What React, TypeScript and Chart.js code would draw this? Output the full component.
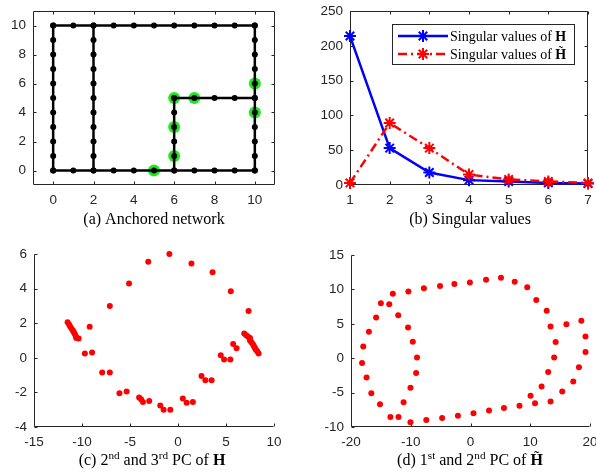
import React, { useEffect, useRef } from 'react';
import { Chart, registerables } from 'chart.js';

Chart.register(...registerables);

const W = 596;
const H = 472;
const SANS = '"Liberation Sans", Arial, Helvetica, sans-serif';
const SERIF = '"Liberation Serif", "Times New Roman", serif';
const AXC = '#262626';

// ---------- (a) Anchored network ----------
const netBottomX = [0, 1, 2, 3, 4, 5, 6, 7, 8, 9, 10];
const netBottomY = [0, 0, 0, 0, 0, 0, 0, 0, 0, 0, 0];
const netTopX = [0, 1, 2, 3, 4, 5, 6, 7, 8, 9, 10];
const netTopY = [10, 10, 10, 10, 10, 10, 10, 10, 10, 10, 10];
const netCol0X = [0, 0, 0, 0, 0, 0, 0, 0, 0, 0, 0];
const netCol0Y = [0, 1, 2, 3, 4, 5, 6, 7, 8, 9, 10];
const netCol2X = [2, 2, 2, 2, 2, 2, 2, 2, 2, 2, 2];
const netCol2Y = [0, 1, 2, 3, 4, 5, 6, 7, 8, 9, 10];
const netCol10X = [10, 10, 10, 10, 10, 10, 10, 10, 10, 10, 10];
const netCol10Y = [0, 1, 2, 3, 4, 5, 6, 7, 8, 9, 10];
const netCol6X = [6, 6, 6, 6, 6, 6];
const netCol6Y = [0, 1, 2, 3, 4, 5];
const netRow5X = [6, 7, 8, 9, 10];
const netRow5Y = [5, 5, 5, 5, 5];
const anchorX = [5, 6, 6, 6, 7, 10, 10];
const anchorY = [0, 1, 3, 5, 5, 4, 6];
const netTicks = [0, 2, 4, 6, 8, 10];

// ---------- (b) Singular values ----------
const svIndex = [1, 2, 3, 4, 5, 6, 7];
const svH = [214, 53, 18, 7, 5, 3, 2];
const svHt = [3, 89, 53, 15, 8, 5, 3];
const svXTicks = [1, 2, 3, 4, 5, 6, 7];
const svYTicks = [0, 50, 100, 150, 200, 250];

// ---------- (c) 2nd and 3rd PC of H ----------
const pcHx = [
  -0.9, 1.4, -3.1, 3.6, -5.1, 5.5, -7.1, 7.35, -9.2, -9.7, -8.95, -7.9, -7.1, -6.1, -5.35,
  -4.05, -3.85, -3.65, -3.0, -1.85, -1.5, -0.8, 0.5, 0.9, 1.55, 2.45, 2.85, 3.5, 4.45, 4.8,
  5.45, 5.75, 6.1,
  -11.5, -11.35, -11.25, -11.1, -10.95, -10.85, -10.75, -10.65, -10.6, -10.35,
  6.9, 7.1, 7.3, 7.5, 7.5, 7.65, 7.8, 7.9, 8.0, 8.1, 8.25, 8.4,
];
const pcHy = [
  6.0, 5.45, 5.55, 4.95, 4.3, 3.85, 3.0, 2.7, 1.8, 0.25, 0.3, -0.85, -0.85, -2.05, -1.95,
  -2.3, -2.4, -2.55, -2.5, -2.75, -3.0, -3.0, -2.35, -2.6, -2.55, -1.05, -1.3, -1.3, 0.15, -0.1,
  -0.1, 0.8, 0.55,
  2.05, 1.92, 1.82, 1.7, 1.58, 1.48, 1.38, 1.26, 1.14, 1.12,
  1.4, 1.3, 1.22, 1.15, 1.0, 0.9, 0.78, 0.68, 0.58, 0.48, 0.38, 0.25,
];
const pcHXTicks = [-15, -10, -5, 0, 5, 10];
const pcHYTicks = [-4, -2, 0, 2, 4, 6];

// ---------- (d) 1st and 2nd PC of H~ ----------
const pcHtX = [
  5.1, 2.6, 7.4, -0.1, -2.7, -5.1, -7.8, -10.4, -13.0, -15.0, -13.6, -12.1, -15.8, -10.45,
  -17.0, -9.65, -17.95, -8.95, -18.15, -9.1, -17.4, -10.05, -16.6, -11.2, -15.15, -13.4,
  -12.05, -10.05, -7.4, -4.75, -2.1, 0.5, 3.1, 5.6, 8.2, 10.8, 10.05, 13.4, 11.9, 15.35,
  13.0, 17.2, 14.0, 18.15, 14.25, 19.25, 13.4, 19.25, 12.75, 16.05, 18.55, 11.0, 9.5,
];
const pcHtY = [
  11.7, 11.4, 11.1, 11.0, 10.8, 10.5, 10.15, 9.7, 9.35, 8.0, 7.85, 6.25, 5.9, 4.45,
  3.85, 2.4, 1.7, 0.1, -0.7, -2.15, -2.8, -4.3, -5.1, -6.4, -6.7, -8.55,
  -8.55, -9.3, -9.0, -8.7, -8.35, -8.0, -7.6, -7.25, -6.9, -6.55, -5.45, -6.3, -4.1, -4.85,
  -2.0, -3.4, 0.1, -1.3, 2.35, 0.9, 4.6, 3.15, 6.9, 4.95, 5.45, 8.45, 10.3,
];
const pcHtXTicks = [-20, -10, 0, 10, 20];
const pcHtYTicks = [-10, -5, 0, 5, 10, 15];

// ---------- helpers ----------
type Piece = { t: string; bold?: boolean; sup?: boolean; tilde?: boolean };
type Box = { L: number; T: number; R: number; B: number };

function drawRich(
  ctx: CanvasRenderingContext2D,
  pieces: Piece[],
  x0: number,
  baseline: number,
  size: number,
  align: 'left' | 'center'
) {
  const supSize = size * 0.7;
  const fontOf = (p: Piece) => `${p.bold ? 'bold ' : ''}${p.sup ? supSize : size}px ${SERIF}`;
  const widths = pieces.map((p) => {
    ctx.font = fontOf(p);
    return ctx.measureText(p.t).width;
  });
  const total = widths.reduce((a, b) => a + b, 0);
  let x = align === 'center' ? x0 - total / 2 : x0;
  ctx.textAlign = 'left';
  ctx.textBaseline = 'alphabetic';
  ctx.fillStyle = '#000';
  pieces.forEach((p, i) => {
    ctx.font = fontOf(p);
    const y = p.sup ? baseline - size * 0.4 : baseline;
    ctx.fillText(p.t, x, y);
    if (p.tilde) {
      ctx.font = `${size}px ${SERIF}`;
      const tw = ctx.measureText('\u02DC').width;
      ctx.fillText('\u02DC', x + widths[i] / 2 - tw / 2, y - size * 0.2);
    }
    x += widths[i];
  });
}

function drawStar(ctx: CanvasRenderingContext2D, x: number, y: number, r: number) {
  const d = r * Math.SQRT1_2;
  ctx.beginPath();
  ctx.moveTo(x - r, y);
  ctx.lineTo(x + r, y);
  ctx.moveTo(x, y - r);
  ctx.lineTo(x, y + r);
  ctx.moveTo(x - d, y - d);
  ctx.lineTo(x + d, y + d);
  ctx.moveTo(x - d, y + d);
  ctx.lineTo(x + d, y - d);
  ctx.stroke();
}

const decoPlugin = {
  id: 'deco',
  beforeDatasetsDraw(chart: any, _a: any, o: any) {
    const ctx: CanvasRenderingContext2D = chart.ctx;
    const { left, right, top, bottom } = chart.chartArea;
    const xs = chart.scales.x;
    const ys = chart.scales.y;
    const l = Math.round(left) + 0.5;
    const r = Math.round(right) - 0.5;
    const t = Math.round(top) + 0.5;
    const b = Math.round(bottom) - 0.5;
    ctx.save();
    ctx.strokeStyle = AXC;
    ctx.lineWidth = 1;
    ctx.beginPath();
    ctx.moveTo(l, t);
    ctx.lineTo(l, b);
    ctx.lineTo(r, b);
    if (o.box) {
      ctx.lineTo(r, t);
      ctx.closePath();
    }
    ctx.stroke();
    const tl = 3;
    ctx.beginPath();
    (o.xTicks as number[]).forEach((v) => {
      const px = Math.round(xs.getPixelForValue(v)) + 0.5;
      ctx.moveTo(px, b);
      ctx.lineTo(px, b - tl);
      if (o.box) {
        ctx.moveTo(px, t);
        ctx.lineTo(px, t + tl);
      }
    });
    (o.yTicks as number[]).forEach((v) => {
      const py = Math.round(ys.getPixelForValue(v)) + 0.5;
      ctx.moveTo(l, py);
      ctx.lineTo(l + tl, py);
      if (o.box) {
        ctx.moveTo(r, py);
        ctx.lineTo(r - tl, py);
      }
    });
    ctx.stroke();
    ctx.restore();
  },
  afterDraw(chart: any, _a: any, o: any) {
    const ctx: CanvasRenderingContext2D = chart.ctx;
    ctx.save();
    if (o.caption) {
      drawRich(ctx, o.caption, o.capX, o.capY, 16, 'center');
    }
    if (o.legend) {
      const L = 392, T = 24, R = 575, B = 65;
      ctx.fillStyle = '#fff';
      ctx.fillRect(L, T, R - L, B - T);
      ctx.strokeStyle = AXC;
      ctx.lineWidth = 1;
      ctx.strokeRect(L + 0.5, T + 0.5, R - L - 1, B - T - 1);
      const rows = [
        { y: 36, color: '#0000ff', dash: [] as number[], label: [{ t: 'Singular values of ' }, { t: 'H', bold: true }] },
        { y: 54, color: '#ff0000', dash: [9, 4, 2, 4], label: [{ t: 'Singular values of ' }, { t: 'H', bold: true, tilde: true }] },
      ];
      rows.forEach((row) => {
        ctx.strokeStyle = row.color;
        ctx.lineWidth = 2.5;
        ctx.setLineDash(row.dash);
        ctx.beginPath();
        ctx.moveTo(398, row.y);
        ctx.lineTo(448, row.y);
        ctx.stroke();
        ctx.setLineDash([]);
        ctx.lineWidth = 2;
        drawStar(ctx, 423, row.y, 6);
        drawRich(ctx, row.label as Piece[], 450, row.y + 5, 14, 'left');
      });
    }
    ctx.restore();
  },
};

function makeOptions(
  box: Box,
  xr: [number, number],
  yr: [number, number],
  xTicks: number[],
  yTicks: number[],
  deco: any
) {
  const YW = 40;
  const XH = 34;
  const tickFont = { family: SANS, size: 13.5 };
  return {
    responsive: false,
    animation: false,
    devicePixelRatio: 1,
    events: [],
    layout: { padding: { left: box.L - YW, top: box.T, right: W - box.R, bottom: H - box.B - XH } },
    plugins: { legend: { display: false }, tooltip: { enabled: false }, deco },
    scales: {
      x: {
        type: 'linear',
        min: xr[0],
        max: xr[1],
        grid: { display: false, drawTicks: false },
        border: { display: false },
        ticks: { color: AXC, font: tickFont, padding: 7, maxRotation: 0, autoSkip: false, callback: (v: any) => String(v) },
        afterBuildTicks: (s: any) => {
          s.ticks = xTicks.map((v) => ({ value: v }));
        },
        afterFit: (s: any) => {
          s.height = XH;
          s.paddingLeft = 0;
          s.paddingRight = 0;
        },
      },
      y: {
        type: 'linear',
        min: yr[0],
        max: yr[1],
        grid: { display: false, drawTicks: false },
        border: { display: false },
        ticks: { color: AXC, font: tickFont, padding: 7, autoSkip: false, callback: (v: any) => String(v) },
        afterBuildTicks: (s: any) => {
          s.ticks = yTicks.map((v) => ({ value: v }));
        },
        afterFit: (s: any) => {
          s.width = YW;
          s.paddingTop = 0;
          s.paddingBottom = 0;
        },
      },
    },
  };
}

function pts(xs: number[], ys: number[]) {
  return xs.map((x, i) => ({ x, y: ys[i] }));
}

function netLine(xs: number[], ys: number[]) {
  return {
    data: pts(xs, ys),
    showLine: true,
    borderColor: '#000',
    borderWidth: 2.5,
    pointRadius: 3,
    pointBorderWidth: 0,
    pointBackgroundColor: '#000',
    backgroundColor: '#000',
    clip: false,
  };
}

function configA() {
  return {
    type: 'scatter',
    data: {
      datasets: [
        netLine(netBottomX, netBottomY),
        netLine(netTopX, netTopY),
        netLine(netCol0X, netCol0Y),
        netLine(netCol2X, netCol2Y),
        netLine(netCol10X, netCol10Y),
        netLine(netCol6X, netCol6Y),
        netLine(netRow5X, netRow5Y),
        {
          data: pts(anchorX, anchorY),
          showLine: false,
          pointRadius: 6,
          pointBorderWidth: 0,
          pointBackgroundColor: '#1ee81e',
          backgroundColor: '#1ee81e',
          clip: false,
        },
      ],
    },
    options: makeOptions({ L: 33, T: 11, R: 275, B: 185 }, [-1, 11], [-1, 11], netTicks, netTicks, {
      box: true,
      xTicks: netTicks,
      yTicks: netTicks,
      caption: [{ t: '(a) Anchored network' }],
      capX: 154,
      capY: 224,
    }),
  };
}

function configB() {
  return {
    type: 'scatter',
    data: {
      datasets: [
        {
          data: pts(svIndex, svHt),
          showLine: true,
          borderColor: '#ff0000',
          backgroundColor: '#ff0000',
          borderWidth: 2.5,
          borderDash: [9, 4, 2, 4],
          pointStyle: 'star',
          pointRadius: 6,
          pointBorderWidth: 2,
          pointBorderColor: '#ff0000',
          clip: false,
        },
        {
          data: pts(svIndex, svH),
          showLine: true,
          borderColor: '#0000ff',
          backgroundColor: '#0000ff',
          borderWidth: 2.5,
          pointStyle: 'star',
          pointRadius: 6,
          pointBorderWidth: 2,
          pointBorderColor: '#0000ff',
          clip: false,
        },
      ],
    },
    options: makeOptions({ L: 350, T: 11, R: 590, B: 185 }, [1, 7], [0, 250], svXTicks, svYTicks, {
      box: true,
      xTicks: svXTicks,
      yTicks: svYTicks,
      caption: [{ t: '(b) Singular values' }],
      capX: 470,
      capY: 224,
      legend: true,
    }),
  };
}

function configC() {
  return {
    type: 'scatter',
    data: {
      datasets: [
        {
          data: pts(pcHx, pcHy),
          pointRadius: 3,
          pointBorderWidth: 0,
          pointBackgroundColor: '#ff0000',
          backgroundColor: '#ff0000',
          clip: false,
        },
      ],
    },
    options: makeOptions({ L: 34, T: 254, R: 274, B: 427 }, [-15, 10], [-4, 6], pcHXTicks, pcHYTicks, {
      box: false,
      xTicks: pcHXTicks,
      yTicks: pcHYTicks,
      caption: [
        { t: '(c) 2' },
        { t: 'nd', sup: true },
        { t: ' and 3' },
        { t: 'rd', sup: true },
        { t: ' PC of ' },
        { t: 'H', bold: true },
      ],
      capX: 152,
      capY: 465,
    }),
  };
}

function configD() {
  return {
    type: 'scatter',
    data: {
      datasets: [
        {
          data: pts(pcHtX, pcHtY),
          pointRadius: 3,
          pointBorderWidth: 0,
          pointBackgroundColor: '#ff0000',
          backgroundColor: '#ff0000',
          clip: false,
        },
      ],
    },
    options: makeOptions({ L: 351, T: 255, R: 590, B: 427 }, [-20, 20], [-10, 15], pcHtXTicks, pcHtYTicks, {
      box: false,
      xTicks: pcHtXTicks,
      yTicks: pcHtYTicks,
      caption: [
        { t: '(d) 1' },
        { t: 'st', sup: true },
        { t: ' and 2' },
        { t: 'nd', sup: true },
        { t: ' PC of ' },
        { t: 'H', bold: true, tilde: true },
      ],
      capX: 470,
      capY: 465,
    }),
  };
}

function Panel({ make }: { make: () => any }) {
  const ref = useRef<HTMLCanvasElement | null>(null);
  useEffect(() => {
    if (!ref.current) return;
    const cfg = make();
    const chart = new Chart(ref.current, { ...cfg, plugins: [decoPlugin] } as any);
    return () => chart.destroy();
  }, [make]);
  return (
    <canvas
      ref={ref}
      width={W}
      height={H}
      style={{ position: 'absolute', left: 0, top: 0, width: W, height: H }}
    />
  );
}

export default function App() {
  return (
    <div style={{ position: 'fixed', left: 0, top: 0, width: W, height: H, background: '#fff', overflow: 'hidden' }}>
      <Panel make={configA} />
      <Panel make={configB} />
      <Panel make={configC} />
      <Panel make={configD} />
    </div>
  );
}
